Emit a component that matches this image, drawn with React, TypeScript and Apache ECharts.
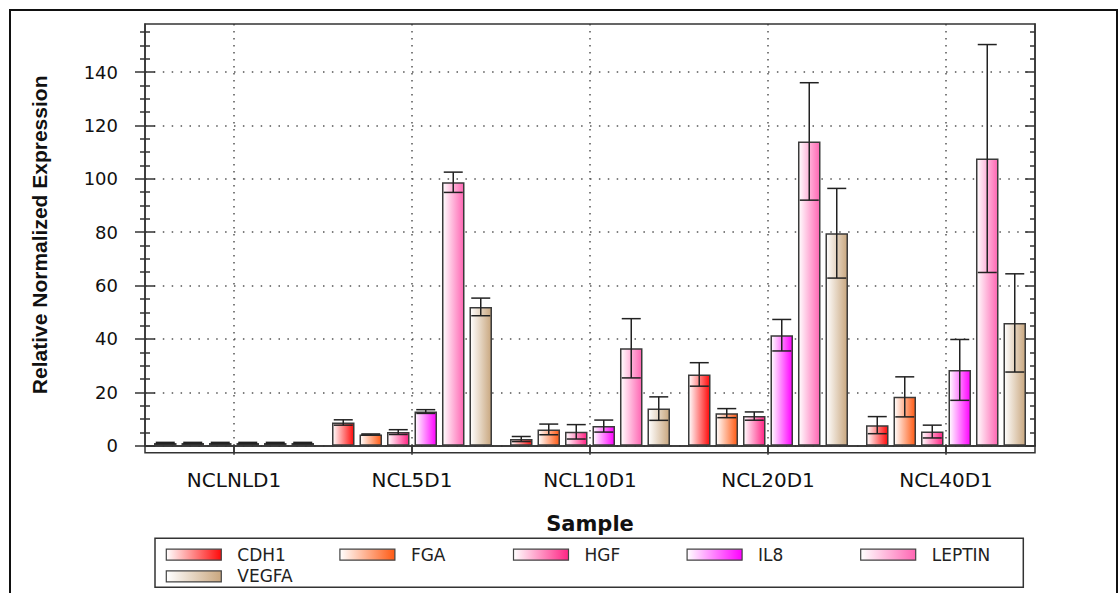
import React, { useEffect, useRef } from 'react';
import * as echarts from 'echarts';

// Samples on the x axis and the genes drawn as grouped bars
const categories = ['NCLNLD1', 'NCL5D1', 'NCL10D1', 'NCL20D1', 'NCL40D1'];
const genes = ['CDH1', 'FGA', 'HGF', 'IL8', 'LEPTIN', 'VEGFA'];

// Mean relative normalized expression per sample
const cdh1 = [1.0, 8.7, 2.5, 26.7, 7.7];
const fga = [1.0, 4.2, 6.1, 12.2, 18.3];
const hgf = [1.0, 5.1, 5.2, 11.1, 5.3];
const il8 = [1.0, 12.8, 7.35, 41.4, 28.4];
const leptin = [1.0, 98.7, 36.5, 114.0, 107.6];
const vegfa = [1.0, 52.0, 13.9, 79.6, 46.0];

// Error (± half-range) per sample
const cdh1Err = [0.25, 1.0, 0.95, 4.4, 3.2];
const fgaErr = [0.25, 0.2, 2.0, 1.7, 7.5];
const hgfErr = [0.25, 0.9, 2.7, 1.55, 2.4];
const il8Err = [0.25, 0.7, 2.25, 5.9, 11.4];
const leptinErr = [0.25, 3.8, 11.1, 22.0, 42.7];
const vegfaErr = [0.25, 3.3, 4.4, 16.8, 18.4];

const yTicks = [0, 20, 40, 60, 80, 100, 120, 140];
const yMax = 158;

const geneColors = ['#ff0a0a', '#ff5a14', '#ff2484', '#ff00ff', '#ff66b3', '#c9a77f'];

// Legend rows (genes per row)
const legendRows = [genes.slice(0, 5), genes.slice(5)];

// Layout (pixels)
const WIDTH = 1120;
const HEIGHT = 593;
const PLOT_LEFT = 145;
const PLOT_TOP = 24;
const PLOT_RIGHT = 1035;
const ZERO_Y = 445.7;
const FRAME_BOTTOM = 452.7;
const BAR_W = 22.5;
const BAR_PITCH = 27.5;
const CAP = 9.5;
const LEGEND_BOX = { x: 155, y: 538.3, w: 868.3, h: 49 };
const LEGEND_LEFT = 165.7;
const LEGEND_ROW_TOPS = [546.2, 567.9];

const LABEL_FONT = 'DejaVu Sans';
const DARK = '#333';

function gradient(color: string) {
  return new echarts.graphic.LinearGradient(0, 0, 1, 0, [
    { offset: 0, color: '#ffffff' },
    { offset: 1, color },
  ]);
}

function buildOption() {
  const values = [cdh1, fga, hgf, il8, leptin, vegfa];
  const errors = [cdh1Err, fgaErr, hgfErr, il8Err, leptinErr, vegfaErr];

  const barSeries = genes.map((g, i) => ({
    type: 'bar',
    name: g,
    xAxisIndex: 0,
    yAxisIndex: 0,
    data: values[i],
    barWidth: BAR_W,
    barGap: '22.2%',
    itemStyle: {
      color: gradient(geneColors[i]),
      borderColor: '#3a3a3a',
      borderWidth: 1.5,
    },
    z: 2,
  }));

  const errorSeries = genes.map((g, i) => ({
    type: 'custom',
    name: g + ' error',
    xAxisIndex: 0,
    yAxisIndex: 0,
    z: 3,
    encode: { x: 0, y: 1 },
    data: categories.map((_, ci) => [ci, values[i][ci], errors[i][ci]]),
    renderItem: (params: any, api: any) => {
      const ci = api.value(0);
      const v = api.value(1);
      const e = api.value(2);
      const c = api.coord([ci, v]);
      const hi = api.coord([ci, v + e]);
      const lo = api.coord([ci, v - e]);
      const x = c[0] + (i - 2.5) * BAR_PITCH;
      const style = { stroke: '#222', lineWidth: 1.5, fill: null };
      return {
        type: 'group',
        children: [
          { type: 'line', shape: { x1: x, y1: hi[1], x2: x, y2: lo[1] }, style },
          { type: 'line', shape: { x1: x - CAP, y1: hi[1], x2: x + CAP, y2: hi[1] }, style },
          { type: 'line', shape: { x1: x - CAP, y1: lo[1], x2: x + CAP, y2: lo[1] }, style },
        ],
      };
    },
  }));

  const axisLineStyle = { color: DARK, width: 1.5 };
  const yBase = {
    type: 'value',
    min: 0,
    max: yMax,
    interval: 20,
  };

  const legends = legendRows.map((row, r) => ({
    data: row,
    orient: 'horizontal',
    left: LEGEND_LEFT,
    top: LEGEND_ROW_TOPS[r],
    icon: 'rect',
    itemWidth: 55,
    itemHeight: 11,
    itemGap: 10,
    padding: 0,
    selectedMode: false,
    itemStyle: { borderColor: '#444', borderWidth: 1.2 },
    textStyle: {
      fontFamily: LABEL_FONT,
      fontSize: 17,
      color: '#222',
      width: 92,
      lineHeight: 12,
      padding: [0, 0, 0, 11],
    },
  }));

  return {
    animation: false,
    backgroundColor: '#ffffff',
    grid: {
      left: PLOT_LEFT,
      top: PLOT_TOP,
      width: PLOT_RIGHT - PLOT_LEFT,
      height: ZERO_Y - PLOT_TOP,
    },
    xAxis: [
      {
        type: 'category',
        data: categories,
        position: 'bottom',
        offset: FRAME_BOTTOM - ZERO_Y,
        axisLine: { show: true, lineStyle: axisLineStyle },
        axisTick: { show: true, alignWithLabel: true, length: 7, lineStyle: axisLineStyle },
        axisLabel: {
          fontFamily: LABEL_FONT,
          fontSize: 20,
          color: '#111',
          margin: 17,
        },
        splitLine: {
          show: true,
          alignWithLabel: true,
          lineStyle: { color: '#555', width: 1.5, type: [1.5, 5.5] },
        },
        name: 'Sample',
        nameLocation: 'middle',
        nameGap: 61,
        nameTextStyle: {
          fontFamily: LABEL_FONT,
          fontWeight: 'bold',
          fontSize: 21,
          color: '#111',
        },
      },
      {
        type: 'category',
        data: categories,
        position: 'top',
        axisLine: { show: true, lineStyle: axisLineStyle },
        axisTick: { show: true, inside: true, alignWithLabel: true, length: 9, lineStyle: axisLineStyle },
        axisLabel: { show: false },
        splitLine: { show: false },
      },
    ],
    yAxis: [
      {
        ...yBase,
        position: 'left',
        axisLine: { show: true, lineStyle: axisLineStyle },
        axisTick: { show: true, length: 10, customValues: yTicks, lineStyle: axisLineStyle },
        minorTick: { show: true, splitNumber: 4, length: 5, lineStyle: axisLineStyle },
        axisLabel: {
          customValues: yTicks,
          fontFamily: LABEL_FONT,
          fontSize: 18,
          color: '#111',
          margin: 27,
        },
        splitLine: {
          show: true,
          lineStyle: { color: '#555', width: 1.5, type: [1.5, 7.4] },
        },
        name: 'Relative Normalized Expression',
        nameLocation: 'middle',
        nameGap: 95,
        nameTextStyle: {
          fontFamily: 'Liberation Sans',
          fontWeight: 'bold',
          fontSize: 21,
          color: '#111',
        },
      },
      {
        ...yBase,
        position: 'left',
        axisLine: { show: false },
        axisTick: { show: true, inside: true, length: 10, customValues: yTicks, lineStyle: axisLineStyle },
        minorTick: { show: true, splitNumber: 4, length: 5, lineStyle: axisLineStyle },
        axisLabel: { show: false },
        splitLine: { show: false },
      },
      {
        ...yBase,
        position: 'right',
        axisLine: { show: true, lineStyle: axisLineStyle },
        axisTick: { show: true, inside: true, length: 10, customValues: yTicks, lineStyle: axisLineStyle },
        minorTick: { show: true, splitNumber: 4, length: 5, lineStyle: axisLineStyle },
        axisLabel: { show: false },
        splitLine: { show: false },
      },
    ],
    legend: legends,
    graphic: [
      {
        type: 'rect',
        silent: true,
        z: 10,
        shape: {
          x: PLOT_LEFT,
          y: PLOT_TOP,
          width: PLOT_RIGHT - PLOT_LEFT,
          height: FRAME_BOTTOM - PLOT_TOP,
        },
        style: { fill: null, stroke: DARK, lineWidth: 1.5 },
      },
      {
        type: 'rect',
        silent: true,
        z: 10,
        shape: { x: LEGEND_BOX.x, y: LEGEND_BOX.y, width: LEGEND_BOX.w, height: LEGEND_BOX.h },
        style: { fill: null, stroke: DARK, lineWidth: 1.5 },
      },
      {
        type: 'rect',
        silent: true,
        z: 10,
        shape: { x: 10, y: 10, width: 1107, height: 600 },
        style: { fill: null, stroke: '#111', lineWidth: 2 },
      },
    ],
    series: [...barSeries, ...errorSeries],
  };
}

export default function App() {
  const ref = useRef<HTMLDivElement>(null);

  useEffect(() => {
    if (!ref.current) return;
    const chart = echarts.init(ref.current, undefined, { renderer: 'svg' });
    chart.setOption(buildOption() as any);
    return () => chart.dispose();
  }, []);

  return (
    <div
      ref={ref}
      style={{ position: 'absolute', left: 0, top: 0, width: WIDTH, height: HEIGHT, background: '#fff' }}
    />
  );
}
